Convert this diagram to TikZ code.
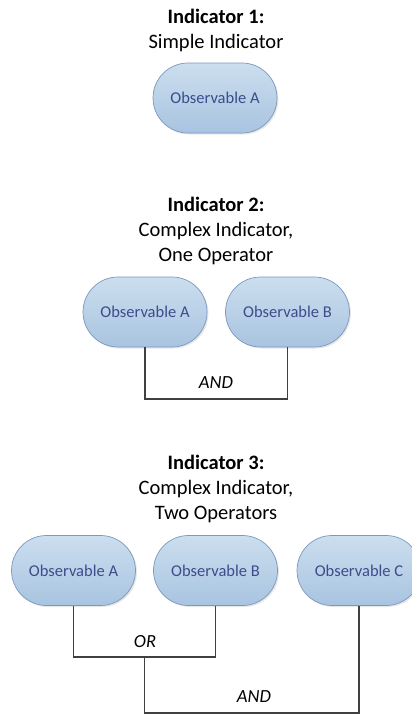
\documentclass[tikz,border=0pt]{standalone}
\usepackage{fontspec}
\setmainfont{Carlito}
\usetikzlibrary{shapes.misc,shadows}

\definecolor{obsborder}{HTML}{7C97C0}
\definecolor{obstop}{HTML}{CCDEEF}
\definecolor{obsbottom}{HTML}{A8C4E0}
\definecolor{obstext}{HTML}{3B4D8B}
\definecolor{wire}{HTML}{404040}

\tikzset{
  observable/.style = {rounded rectangle, draw = obsborder, line width = 0.7pt,
    top color = obstop, bottom color = obsbottom,
    minimum width = 124pt, minimum height = 70pt, inner sep = 0pt,
    text = obstext, font = \fontsize{16.5}{20}\selectfont,
    drop shadow = {shadow xshift = 1.5pt, shadow yshift = -1.5pt, opacity = 0.2}},
  title/.style = {align = center, font = \fontsize{20.5}{25}\selectfont},
  operator/.style = {font = \fontsize{18.5}{22}\selectfont\itshape},
  wire/.style = {draw = wire, line width = 1.5pt}
}

\begin{document}
\begin{tikzpicture}[x = 1pt, y = -1pt]
    \clip (0,0) rectangle (412,715);

    % indicator 1
    \node [title] (title1) at (216,30) {\textbf{Indicator 1:}\\Simple Indicator};
    \node [observable] (obs1a) at (215,98) {Observable A};

    % indicator 2
    \node [title] (title2) at (216,231) {\textbf{Indicator 2:}\\Complex Indicator,\\One Operator};
    \node [observable] (obs2a) at (145,312) {Observable A};
    \node [observable] (obs2b) at (287.5,312) {Observable B};
    \draw [wire] (obs2a.south) |- (216,399) -| (obs2b.south);
    \node [operator] (and2) at (216,383) {AND};

    % indicator 3
    \node [title] (title3) at (216,489) {\textbf{Indicator 3:}\\Complex Indicator,\\Two Operators};
    \node [observable] (obs3a) at (73.5,570.5) {Observable A};
    \node [observable] (obs3b) at (215.5,570.5) {Observable B};
    \node [observable] (obs3c) at (359,570.5) {Observable C};
    \coordinate (or3) at (144.5,657);
    \draw [wire] (obs3a.south) |- (or3) -| (obs3b.south);
    \draw [wire] (or3) |- (251,713) -| (obs3c.south);
    \node [operator] (or3label) at (145,642) {OR};
    \node [operator] (and3) at (254,697) {AND};
\end{tikzpicture}
\end{document}
